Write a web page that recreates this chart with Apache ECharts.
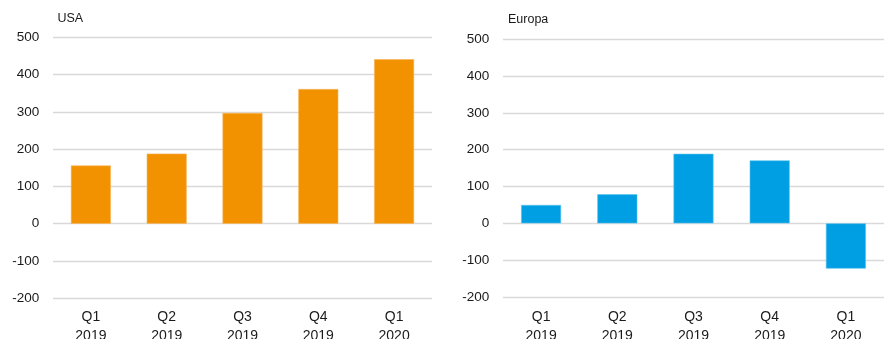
<!DOCTYPE html>
<html><head><meta charset="utf-8">
<script src="https://cdn.jsdelivr.net/npm/echarts@6/dist/echarts.min.js"></script>
<style>html,body{margin:0;padding:0;background:#fff;overflow:hidden}#c{width:884px;height:339px}</style>
</head><body><div id="c"></div>
<script>
const categories = ['Q1\n2019','Q2\n2019','Q3\n2019','Q4\n2019','Q1\n2020'];
const usaValues = [156, 188, 297, 361, 441];
const europaValues = [50, 79, 189, 171, -123];
const yTicks = {min: -200, max: 500, interval: 100};
const titles = ['USA', 'Europa'];

const chart = echarts.init(document.getElementById('c'));
const font = 'Liberation Sans, Arial, sans-serif';
function xAx(i, m){return {type:'category',gridIndex:i,data:categories,
  axisLine:{show:false},axisTick:{show:false},
  axisLabel:{color:'#1a1a1a',fontSize:14,fontFamily:font,lineHeight:18.7,margin:m,interval:0}};}
function yAx(i){return {type:'value',gridIndex:i,min:yTicks.min,max:yTicks.max,interval:yTicks.interval,
  axisLine:{show:false},axisTick:{show:false},
  splitLine:{lineStyle:{color:'#d9d9d9',width:1.3}},
  axisLabel:{color:'#1a1a1a',fontSize:13.5,fontFamily:font,margin:13.8}};}
chart.setOption({
  animation:false,
  title:[
    {text:titles[0],left:57.5,top:12.5,padding:0,textStyle:{fontSize:12.5,fontWeight:'normal',color:'#1a1a1a',fontFamily:font}},
    {text:titles[1],left:508,top:13.5,padding:0,textStyle:{fontSize:12.5,fontWeight:'normal',color:'#1a1a1a',fontFamily:font}}
  ],
  grid:[
    {left:53,right:452,top:37.2,bottom:40.7,containLabel:false,outerBoundsMode:'none'},
    {left:503,right:0,top:39.3,bottom:42,containLabel:false,outerBoundsMode:'none'}
  ],
  xAxis:[xAx(0, 9.5),xAx(1, 10.8)],
  yAxis:[yAx(0),yAx(1)],
  series:[
    {type:'bar',xAxisIndex:0,yAxisIndex:0,data:usaValues,barWidth:40,
     itemStyle:{color:'#f39200',borderColor:'#f7b55c',borderWidth:0.6}},
    {type:'bar',xAxisIndex:1,yAxisIndex:1,data:europaValues,barWidth:40,
     itemStyle:{color:'#009fe3',borderColor:'#5cc3ee',borderWidth:0.6}}
  ]
});
</script></body></html>
